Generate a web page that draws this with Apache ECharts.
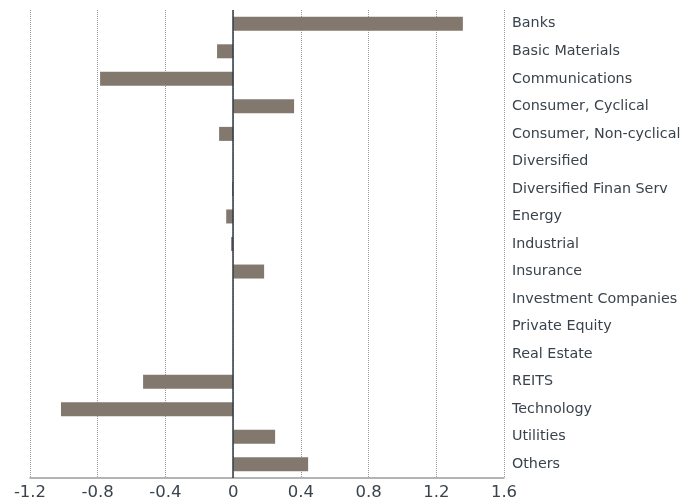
<!DOCTYPE html>
<html><head><meta charset="utf-8">
<script src="https://cdn.jsdelivr.net/npm/echarts@6/dist/echarts.min.js"></script>
<style>html,body{margin:0;padding:0;background:#fff}#c{width:685px;height:502px}</style>
</head><body><div id="c"></div>
<script>
const categories = ["Banks","Basic Materials","Communications","Consumer, Cyclical","Consumer, Non-cyclical","Diversified","Diversified Finan Serv","Energy","Industrial","Insurance","Investment Companies","Private Equity","Real Estate","REITS","Technology","Utilities","Others"];
const values = [1.357,-0.095,-0.786,0.36,-0.083,0.002,-0.006,-0.041,-0.012,0.183,0,0.001,0.001,-0.532,-1.017,0.248,0.443];
const xTicks = [-1.2,-0.8,-0.4,0,0.4,0.8,1.2,1.6];

const chart = echarts.init(document.getElementById('c'));
chart.setOption({
  animation:false,
  grid:{left:30,right:181,top:10,bottom:24},
  xAxis:{type:'value',min:xTicks[0],max:xTicks[xTicks.length-1],interval:0.4,
    axisLine:{show:true,onZero:false,lineStyle:{color:'#9a9a9a',width:1.5}},
    axisTick:{show:false},
    axisLabel:{color:'#3a434c',fontSize:16.5,fontFamily:'DejaVu Sans',margin:6,
      formatter:v=>String(Math.round(v*10)/10)},
    splitLine:{show:true,lineStyle:{type:'dotted',color:'#999999'}}},
  yAxis:{type:'category',data:categories,inverse:true,position:'right',
    axisLine:{show:false},axisTick:{show:false},
    axisLabel:{color:'#3a434c',fontSize:14.3,fontFamily:'DejaVu Sans',margin:8}},
  series:[{type:'bar',data:values,barWidth:14,itemStyle:{color:'#83786e'},
    markLine:{silent:true,symbol:'none',label:{show:false},
      lineStyle:{color:'#2f3b47',type:'solid',width:1.5},data:[{xAxis:0}]}}]
});
</script></body></html>
